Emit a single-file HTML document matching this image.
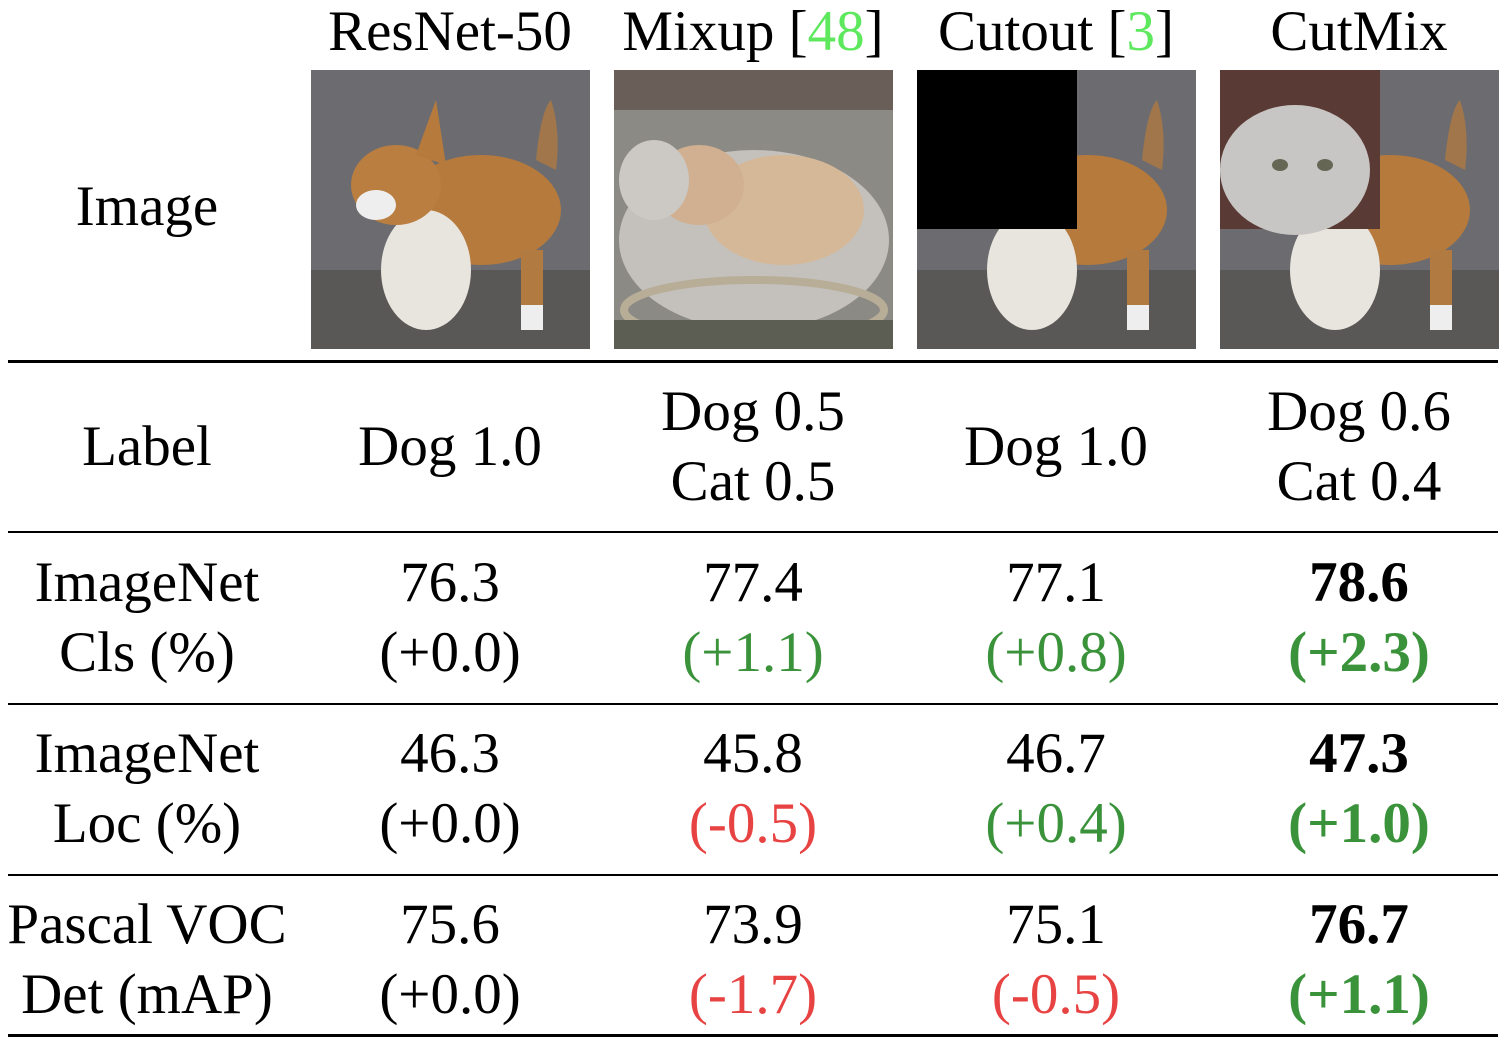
<!DOCTYPE html>
<html><head><meta charset="utf-8"><style>
html,body{margin:0;padding:0;background:#fff}
#root{position:relative;width:1500px;height:1054px;overflow:hidden;font-family:"Liberation Serif",serif;color:#000}
.t{position:absolute;width:300px;text-align:center;font-size:57px;line-height:70px;white-space:nowrap}
.hl{position:absolute;left:8px;width:1490px;background:#000}
.g{color:#3a933a}.r{color:#e84343}.c{color:#5ee85e}.b{font-weight:bold}
.img{position:absolute;top:70px;width:279px;height:279px}
</style></head><body>
<div id="root">
<div class="t" style="left:300px;top:-3px">ResNet-50</div>
<div class="t" style="left:603px;top:-3px">Mixup [<span class="c">48</span>]</div>
<div class="t" style="left:906px;top:-3px">Cutout [<span class="c">3</span>]</div>
<div class="t" style="left:1209px;top:-3px">CutMix</div>
<div class="t" style="left:-3px;top:172px">Image</div>

<svg class="img" style="left:311px" viewBox="0 0 279 279">
<rect width="279" height="279" fill="#6c6c70"/><rect y="200" width="279" height="79" fill="#5a5856"/>
<path d="M225 90 Q230 40 240 30 Q250 60 245 100Z" fill="#a0764a"/>
<ellipse cx="170" cy="140" rx="80" ry="55" fill="#b57a3c"/>
<ellipse cx="115" cy="200" rx="45" ry="60" fill="#e8e4de"/>
<ellipse cx="85" cy="115" rx="45" ry="40" fill="#b97e40"/>
<path d="M105 85 L125 30 L135 95Z" fill="#b57a3c"/>
<ellipse cx="65" cy="135" rx="20" ry="15" fill="#eee"/>
<rect x="210" y="180" width="22" height="75" fill="#b07a40"/><rect x="210" y="235" width="22" height="25" fill="#eee"/>
</svg>
<svg class="img" style="left:614px" viewBox="0 0 279 279">
<rect width="279" height="279" fill="#8c8a84"/><rect width="279" height="40" fill="#6a5e58"/>
<ellipse cx="140" cy="170" rx="135" ry="90" fill="#c4c0bc"/>
<ellipse cx="170" cy="140" rx="80" ry="55" fill="#d4b898"/>
<ellipse cx="85" cy="115" rx="45" ry="40" fill="#d0b090"/>
<ellipse cx="40" cy="110" rx="35" ry="40" fill="#ccc8c4"/>
<ellipse cx="140" cy="240" rx="130" ry="30" fill="none" stroke="#b8ae98" stroke-width="8"/>
<rect y="250" width="279" height="29" fill="#5c5e54"/>
</svg>
<svg class="img" style="left:917px" viewBox="0 0 279 279">
<rect width="279" height="279" fill="#6c6c70"/><rect y="200" width="279" height="79" fill="#5a5856"/>
<path d="M225 90 Q230 40 240 30 Q250 60 245 100Z" fill="#a0764a"/>
<ellipse cx="170" cy="140" rx="80" ry="55" fill="#b57a3c"/>
<ellipse cx="115" cy="200" rx="45" ry="60" fill="#e8e4de"/>
<rect x="210" y="180" width="22" height="75" fill="#b07a40"/><rect x="210" y="235" width="22" height="25" fill="#eee"/>
<rect width="160" height="159" fill="#000"/>
</svg>
<svg class="img" style="left:1220px" viewBox="0 0 279 279">
<rect width="279" height="279" fill="#6c6c70"/><rect y="200" width="279" height="79" fill="#5a5856"/>
<path d="M225 90 Q230 40 240 30 Q250 60 245 100Z" fill="#a0764a"/>
<ellipse cx="170" cy="140" rx="80" ry="55" fill="#b57a3c"/>
<ellipse cx="115" cy="200" rx="45" ry="60" fill="#e8e4de"/>
<rect x="210" y="180" width="22" height="75" fill="#b07a40"/><rect x="210" y="235" width="22" height="25" fill="#eee"/>
<rect width="160" height="159" fill="#5a3a34"/>
<ellipse cx="75" cy="100" rx="75" ry="65" fill="#c8c6c4"/>
<ellipse cx="60" cy="95" rx="8" ry="6" fill="#665"/><ellipse cx="105" cy="95" rx="8" ry="6" fill="#665"/>
</svg>

<div class="hl" style="top:360px;height:3px"></div>
<div class="t" style="left:-3px;top:412px">Label</div>
<div class="t" style="left:300px;top:412px">Dog 1.0</div>
<div class="t" style="left:603px;top:377px">Dog 0.5<br>Cat 0.5</div>
<div class="t" style="left:906px;top:412px">Dog 1.0</div>
<div class="t" style="left:1209px;top:377px">Dog 0.6<br>Cat 0.4</div>

<div class="hl" style="top:531px;height:2px"></div>
<div class="t" style="left:-3px;top:548px">ImageNet<br>Cls (%)</div>
<div class="t" style="left:300px;top:548px">76.3<br>(+0.0)</div>
<div class="t" style="left:603px;top:548px">77.4<br><span class="g">(+1.1)</span></div>
<div class="t" style="left:906px;top:548px">77.1<br><span class="g">(+0.8)</span></div>
<div class="t b" style="left:1209px;top:548px">78.6<br><span class="g">(+2.3)</span></div>

<div class="hl" style="top:703px;height:2px"></div>
<div class="t" style="left:-3px;top:719px">ImageNet<br>Loc (%)</div>
<div class="t" style="left:300px;top:719px">46.3<br>(+0.0)</div>
<div class="t" style="left:603px;top:719px">45.8<br><span class="r">(-0.5)</span></div>
<div class="t" style="left:906px;top:719px">46.7<br><span class="g">(+0.4)</span></div>
<div class="t b" style="left:1209px;top:719px">47.3<br><span class="g">(+1.0)</span></div>

<div class="hl" style="top:874px;height:2px"></div>
<div class="t" style="left:-3px;top:890px">Pascal VOC<br>Det (mAP)</div>
<div class="t" style="left:300px;top:890px">75.6<br>(+0.0)</div>
<div class="t" style="left:603px;top:890px">73.9<br><span class="r">(-1.7)</span></div>
<div class="t" style="left:906px;top:890px">75.1<br><span class="r">(-0.5)</span></div>
<div class="t b" style="left:1209px;top:890px">76.7<br><span class="g">(+1.1)</span></div>

<div class="hl" style="top:1034px;height:3px"></div>
</div>
</body></html>
